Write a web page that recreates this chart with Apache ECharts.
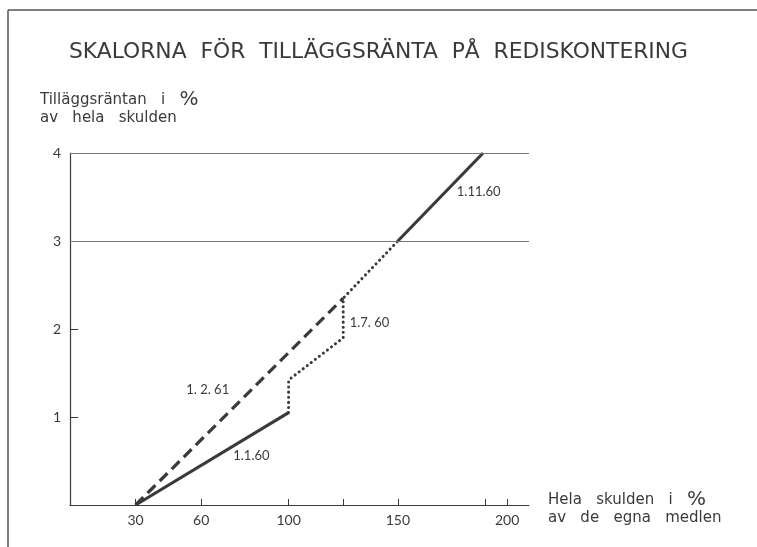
<!DOCTYPE html>
<html>
<head>
<meta charset="utf-8">
<script src="https://cdn.jsdelivr.net/npm/echarts@6/dist/echarts.min.js"></script>
<style>
  html, body { margin: 0; padding: 0; background: #fff; }
  #chart { width: 757px; height: 547px; }
</style>
</head>
<body>
<div id="chart"></div>
<script>
// skalorna (x = hela skulden i % av de egna medlen, y = tilläggsräntan i %)
const scale_1_1_60 = [[30, 0], [100, 1.05]];
const scale_1_2_61 = [[30, 0], [125, 2.35]];
const scale_1_7_60 = [[100, 1.05], [100, 1.42], [125, 1.9], [125, 2.35], [150, 3]];
const scale_1_11_60 = [[150, 3], [189, 4]];

const xTicks = [30, 60, 100, 125, 150, 190, 200];
const xLabels = [30, 60, 100, 150, 200];
const gridValues = [3, 4];

const ink = '#3a3a3a';
const font = 'Lato';
const wide = 'DejaVu Sans';

let chart = echarts.init(document.getElementById('chart'));

// etikett för en skala, placerad i datakoordinater
const tag = (text, coord) => ({
  coord: coord,
  symbolSize: 0,
  label: { show: true, formatter: text, color: ink, fontSize: 13, fontFamily: font, position: 'inside' }
});

// axeltexterna, procenttecknet lite större som i originalet
const nameStyle = {
  color: ink, fontSize: 15, fontWeight: 'normal', fontFamily: wide, lineHeight: 18,
  rich: { p: { fontSize: 20, fontFamily: wide, color: ink, lineHeight: 18 } }
};

chart.setOption({
  animation: false,
  title: [
    {
      text: 'SKALORNA  FÖR  TILLÄGGSRÄNTA  PÅ  REDISKONTERING',
      left: 'center',
      top: 41,
      padding: 0,
      textStyle: { color: ink, fontSize: 21.8, fontWeight: 'normal', fontFamily: wide }
    },
    {
      text: 'Tilläggsräntan   i   {p|%}\nav   hela   skulden',
      left: 40,
      top: 91,
      padding: 0,
      textStyle: nameStyle
    },
    {
      text: 'Hela   skulden   i   {p|%}\nav   de   egna   medlen',
      left: 548,
      top: 491,
      padding: 0,
      textStyle: nameStyle
    }
  ],
  graphic: [
    { type: 'line', shape: { x1: 8, y1: 10, x2: 757, y2: 10 }, style: { stroke: '#555', lineWidth: 1.5 } },
    { type: 'line', shape: { x1: 8, y1: 10, x2: 8, y2: 547 }, style: { stroke: '#555', lineWidth: 1.5 } }
  ],
  grid: { left: 70, right: 228, top: 153, bottom: 42 },
  xAxis: {
    type: 'value',
    min: 0,
    max: 210,
    axisLine: { show: true, lineStyle: { color: ink, width: 1.2 } },
    axisTick: { show: true, inside: true, length: 6, customValues: xTicks, lineStyle: { color: ink } },
    axisLabel: { customValues: xLabels, color: ink, fontSize: 14, fontFamily: font, margin: 8 },
    splitLine: { show: false }
  },
  yAxis: {
    type: 'value',
    min: 0,
    max: 4,
    interval: 1,
    axisLine: { show: true, lineStyle: { color: ink, width: 1.2 } },
    axisTick: { show: true, inside: true, length: 8, lineStyle: { color: ink } },
    axisLabel: {
      color: ink, fontSize: 14, fontFamily: font, margin: 9,
      formatter: (v) => (v === 0 ? '' : String(v))
    },
    splitLine: { show: false }
  },
  series: [
    {
      name: '1.1.60',
      type: 'line',
      data: scale_1_1_60,
      symbol: 'none',
      lineStyle: { color: ink, width: 3.2 },
      markPoint: { data: [tag('1.1.60', [83, 0.56])] },
      markLine: {
        silent: true,
        symbol: 'none',
        label: { show: false },
        lineStyle: { color: '#777', width: 1, type: 'solid' },
        data: gridValues.map((v) => ({ yAxis: v }))
      }
    },
    {
      name: '1.2.61',
      type: 'line',
      data: scale_1_2_61,
      symbol: 'none',
      lineStyle: { color: ink, width: 3.2, type: [11, 6] },
      markPoint: { data: [tag('1. 2. 61', [63, 1.31])] }
    },
    {
      name: '1.7.60',
      type: 'line',
      data: scale_1_7_60,
      symbol: 'none',
      lineStyle: { color: ink, width: 3, type: [0.1, 5], cap: 'round' },
      markPoint: { data: [tag('1.7. 60', [137, 2.07])] }
    },
    {
      name: '1.11.60',
      type: 'line',
      data: scale_1_11_60,
      symbol: 'none',
      lineStyle: { color: ink, width: 3.2 },
      markPoint: { data: [tag('1.11.60', [187, 3.56])] }
    }
  ]
});
</script>
</body>
</html>
